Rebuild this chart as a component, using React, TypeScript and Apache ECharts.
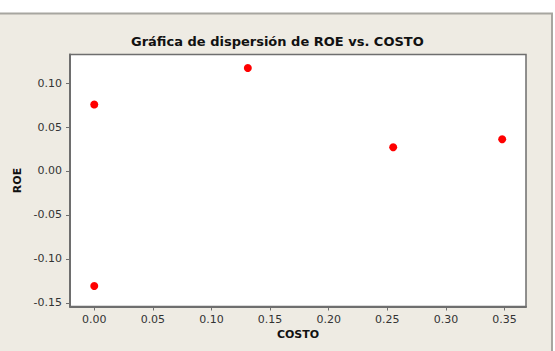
import React, { useEffect, useRef } from "react";
import * as echarts from "echarts";

const costo = [0.0, 0.0, 0.131, 0.255, 0.348];
const roe = [0.0755, -0.1307, 0.117, 0.027, 0.036];
const xTicks = [0, 0.05, 0.1, 0.15, 0.2, 0.25, 0.3, 0.35];
const yTicks = [-0.15, -0.1, -0.05, 0, 0.05, 0.1];
const titleText = "Gráfica de dispersión de ROE vs. COSTO";
const xName = "COSTO";
const yName = "ROE";

export default function App() {
  const ref = useRef<HTMLDivElement>(null);
  useEffect(() => {
    if (!ref.current) return;
    const chart = echarts.init(ref.current, undefined, { renderer: "svg" });
    const font = "DejaVu Sans";
    chart.setOption({
      animation: false,
      backgroundColor: "#ffffff",
      graphic: [
        {
          type: "rect",
          z: -10,
          silent: true,
          shape: { x: -3, y: 13.5, width: 555, height: 345 },
          style: { fill: "#eeebe3", stroke: "#a7a6a0", lineWidth: 2 },
        },
      ],
      title: {
        text: titleText,
        left: 126,
        top: 30,
        textStyle: { fontFamily: font, fontSize: 13, fontWeight: "bold", color: "#111" },
      },
      grid: {
        left: 70,
        top: 54.5,
        right: 29,
        bottom: 44.5,
        show: true,
        backgroundColor: "#ffffff",
        borderColor: "#6e6e6e",
        borderWidth: 1.5,
      },
      xAxis: {
        type: "value",
        min: -0.0207,
        max: 0.3683,
        name: xName,
        nameLocation: "middle",
        nameGap: 22,
        nameTextStyle: { fontFamily: font, fontSize: 11, fontWeight: "bold", color: "#111" },
        axisLine: { show: true, onZero: false, lineStyle: { color: "#6e6e6e", width: 2 } },
        axisTick: { show: true, length: 4, customValues: xTicks, lineStyle: { color: "#6e6e6e" } },
        axisLabel: {
          customValues: xTicks,
          fontFamily: font,
          fontSize: 11,
          color: "#333",
          margin: 7,
          formatter: (v: number) => v.toFixed(2),
        },
        splitLine: { show: false },
      },
      yAxis: {
        type: "value",
        min: -0.154,
        max: 0.1324,
        name: yName,
        nameLocation: "middle",
        nameGap: 47,
        nameRotate: 90,
        nameTextStyle: { fontFamily: font, fontSize: 11, fontWeight: "bold", color: "#111" },
        axisLine: { show: true, onZero: false, lineStyle: { color: "#6e6e6e", width: 2 } },
        axisTick: { show: true, length: 4, customValues: yTicks, lineStyle: { color: "#6e6e6e" } },
        axisLabel: {
          customValues: yTicks,
          fontFamily: font,
          fontSize: 11,
          color: "#333",
          margin: 8,
          formatter: (v: number) => v.toFixed(2),
        },
        splitLine: { show: false },
      },
      series: [
        {
          type: "scatter",
          symbol: "circle",
          symbolSize: 8,
          itemStyle: { color: "#ff0000", opacity: 1 },
          data: costo.map((c, i) => [c, roe[i]]),
        },
      ],
    });
    return () => chart.dispose();
  }, []);
  return (
    <div
      ref={ref}
      style={{ position: "fixed", left: 0, top: 0, width: 555, height: 351 }}
    />
  );
}
